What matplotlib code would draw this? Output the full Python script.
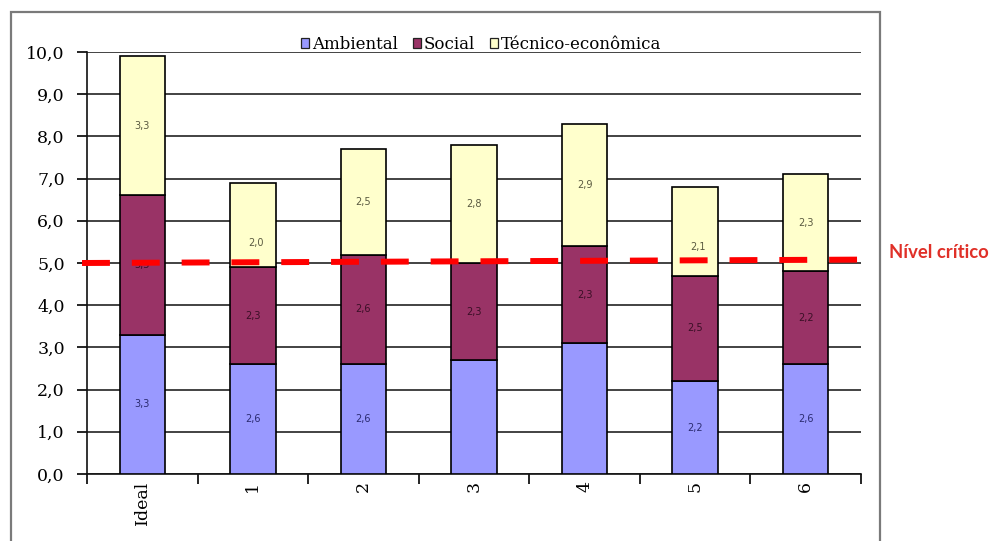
import matplotlib
matplotlib.use("Agg")
import matplotlib.pyplot as plt
from matplotlib.patches import Patch, Rectangle
from matplotlib.lines import Line2D
import numpy as np

# Scenario scores per sustainability dimension
categories = ["Ideal", "1", "2", "3", "4", "5", "6"]
ambiental = [3.3, 2.6, 2.6, 2.7, 3.1, 2.2, 2.6]
social = [3.3, 2.3, 2.6, 2.3, 2.3, 2.5, 2.2]
tecnico = [3.3, 2.0, 2.5, 2.8, 2.9, 2.1, 2.3]
series_names = ["Ambiental", "Social", "Técnico-econômica"]
# which segment values carry a printed label
show_ambiental = [True, True, True, False, False, True, True]
critical_level = 5.0
critical_label = "Nível crítico"
y_ticks = [0, 1, 2, 3, 4, 5, 6, 7, 8, 9, 10]

colors = ["#9999FF", "#993366", "#FFFFCC"]
label_colors = ["#2b2b70", "#3a0f26", "#5a5a40"]
serif = "DejaVu Serif"

fig = plt.figure(figsize=(9.92, 5.41), dpi=100)
ax = fig.add_axes([87 / 992, 1 - 474 / 541, (861 - 87) / 992, (474 - 52) / 541])

# outer chart frame
fig.patches.append(Rectangle((11 / 992, -0.05), (880 - 11) / 992, 1.05 - 12 / 541,
                             transform=fig.transFigure, fill=False,
                             edgecolor="#7a7a7a", linewidth=1.6, zorder=0))

x = np.arange(len(categories))
width = 0.41
bottoms = np.zeros(len(categories))
series = [ambiental, social, tecnico]
for vals, col, name in zip(series, colors, series_names):
    ax.bar(x, vals, width, bottom=bottoms, color=col, edgecolor="black",
           linewidth=1.2, zorder=3, label=name)
    bottoms = bottoms + np.array(vals)

# segment value labels
def fmt(v):
    return f"{v:.1f}".replace(".", ",")

nudges = {(2, 1): (0.03, -0.43), (2, 5): (0.03, -0.37)}
base = np.zeros(len(categories))
for si, vals in enumerate(series):
    for i, v in enumerate(vals):
        if si == 0 and not show_ambiental[i]:
            continue
        dx, dy = nudges.get((si, i), (0.0, 0.0))
        ax.text(x[i] + dx, base[i] + v / 2 + dy, fmt(v), ha="center", va="center",
                fontsize=7, color=label_colors[si], family="DejaVu Sans", zorder=4)
    base = base + np.array(vals)

# critical level reference line (thick red dashes)
ax.add_line(Line2D([-0.545, 6.49], [critical_level, critical_level + 0.08],
                   color="#FF0000", linewidth=4.3, linestyle=(0, (4.67, 3.67)),
                   solid_capstyle="butt", dash_capstyle="butt",
                   clip_on=False, zorder=5))
fig.text(889 / 992, 1 - 253 / 541, critical_label, color="#E03028",
         fontsize=13.3, fontweight="bold", family="Lato", va="center", ha="left")

ax.set_xlim(-0.5, len(categories) - 0.5)
ax.set_ylim(0, 10)
ax.set_yticks(y_ticks)
ax.set_yticklabels([fmt(float(t)) for t in y_ticks], family=serif, fontsize=12.5)
ax.yaxis.grid(True, color="#222222", linewidth=1.2, zorder=0)
ax.set_axisbelow(True)

ax.set_xticks(x)
ax.set_xticklabels(categories, rotation=90, family=serif, fontsize=12.5, va="top")
ax.tick_params(axis="x", length=0, pad=5)
ax.set_xticks(np.arange(-0.5, len(categories)), minor=True)
ax.tick_params(axis="x", which="minor", length=7, width=1.2, direction="out")
ax.tick_params(axis="y", length=7, width=1.2, direction="out", pad=9)

for side in ["top", "right"]:
    ax.spines[side].set_visible(False)
for side in ["left", "bottom"]:
    ax.spines[side].set_linewidth(1.2)
    ax.spines[side].set_color("#111111")

handles = [Patch(facecolor=c, edgecolor="#222222", linewidth=0.9) for c in colors]
leg = ax.legend(handles, series_names, loc="center", bbox_to_anchor=(0.509, 1.018),
                ncol=3, frameon=False, handlelength=0.5, handleheight=0.5,
                handletextpad=0.15, columnspacing=0.9,
                prop={"family": serif, "size": 12})

fig.savefig("out.png", dpi=100)
